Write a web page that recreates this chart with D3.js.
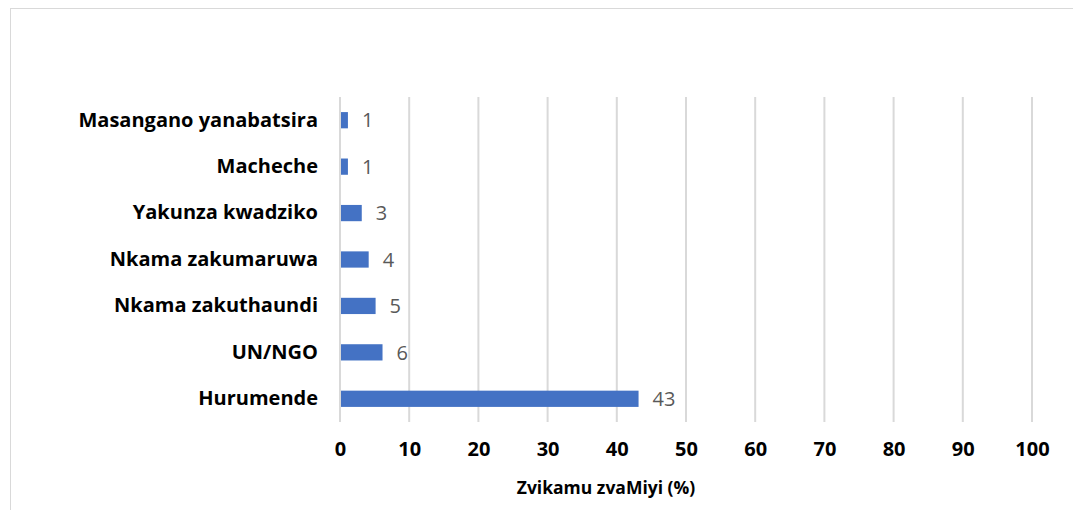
<!DOCTYPE html>
<html>
<head>
<meta charset="utf-8">
<script src="https://cdn.jsdelivr.net/npm/d3@7"></script>
<style>
  body { margin: 0; background: #fff; }
  text { font-family: "Open Sans", sans-serif; }
</style>
</head>
<body>
<div id="chart"></div>
<script>
// Data
let categories = ["Masangano yanabatsira", "Macheche", "Yakunza kwadziko", "Nkama zakumaruwa", "Nkama zakuthaundi", "UN/NGO", "Hurumende"];
let values = [1, 1, 3, 4, 5, 6, 43];
let ticks = [0, 10, 20, 30, 40, 50, 60, 70, 80, 90, 100];
let axisTitle = "Zvikamu zvaMiyi (%)";

let width = 1073;
let height = 510;

// plot area
let plotLeft = 340;
let plotRight = 1032;
let plotTop = 97;
let plotBottom = 422;

let barColor = "#4472C4";

let svg = d3.select("#chart")
    .append("svg")
    .attr("width", width)
    .attr("height", height);

// chart frame (runs off the right and bottom of the picture)
svg.append("rect")
    .attr("x", 10.5)
    .attr("y", 8.5)
    .attr("width", width + 20)
    .attr("height", height + 20)
    .style("fill", "none")
    .style("stroke", "#d9d9d9");

let x = d3.scaleLinear()
    .domain([0, 100])
    .range([plotLeft, plotRight]);

let y = d3.scaleBand()
    .domain(categories)
    .range([plotTop, plotBottom])
    .paddingInner(0.65)
    .paddingOuter(0.325);

// gridlines
svg.append("g")
    .selectAll("line")
    .data(ticks)
    .enter().append("line")
    .attr("x1", d => x(d))
    .attr("x2", d => x(d))
    .attr("y1", plotTop)
    .attr("y2", plotBottom)
    .style("stroke", "#d9d9d9")
    .style("stroke-width", 2);

// bars
svg.append("g")
    .selectAll("rect")
    .data(values)
    .enter().append("rect")
    .attr("x", x(0) + 1)
    .attr("y", (d, i) => y(categories[i]))
    .attr("width", d => x(d) - x(0))
    .attr("height", y.bandwidth())
    .style("fill", barColor);

// value labels
svg.append("g")
    .selectAll("text")
    .data(values)
    .enter().append("text")
    .attr("x", d => x(d) + 15)
    .attr("y", (d, i) => y(categories[i]) + y.bandwidth() / 2)
    .attr("dy", "0.36em")
    .style("font-size", "20px")
    .style("fill", "#595959")
    .text(d => d);

// category labels
let yAxis = d3.axisLeft(y).tickSize(0).tickPadding(22);
let gy = svg.append("g")
    .attr("transform", `translate(${plotLeft},0)`)
    .call(yAxis);
gy.select(".domain").remove();
gy.selectAll("text")
    .style("font-size", "20px")
    .style("font-weight", "bold")
    .style("fill", "#000")
    .style("font-family", "'Open Sans', sans-serif");

// x tick labels
let xAxis = d3.axisBottom(x).tickValues(ticks).tickSize(0).tickPadding(20);
let gx = svg.append("g")
    .attr("transform", `translate(0,${plotBottom})`)
    .call(xAxis);
gx.select(".domain").remove();
gx.selectAll("text")
    .style("font-size", "20px")
    .style("font-weight", "bold")
    .style("fill", "#000")
    .style("font-family", "'Open Sans', sans-serif");

// axis title
svg.append("text")
    .attr("x", 606)
    .attr("y", 494)
    .attr("text-anchor", "middle")
    .style("font-size", "17.5px")
    .style("font-weight", "bold")
    .text(axisTitle);
</script>
</body>
</html>
